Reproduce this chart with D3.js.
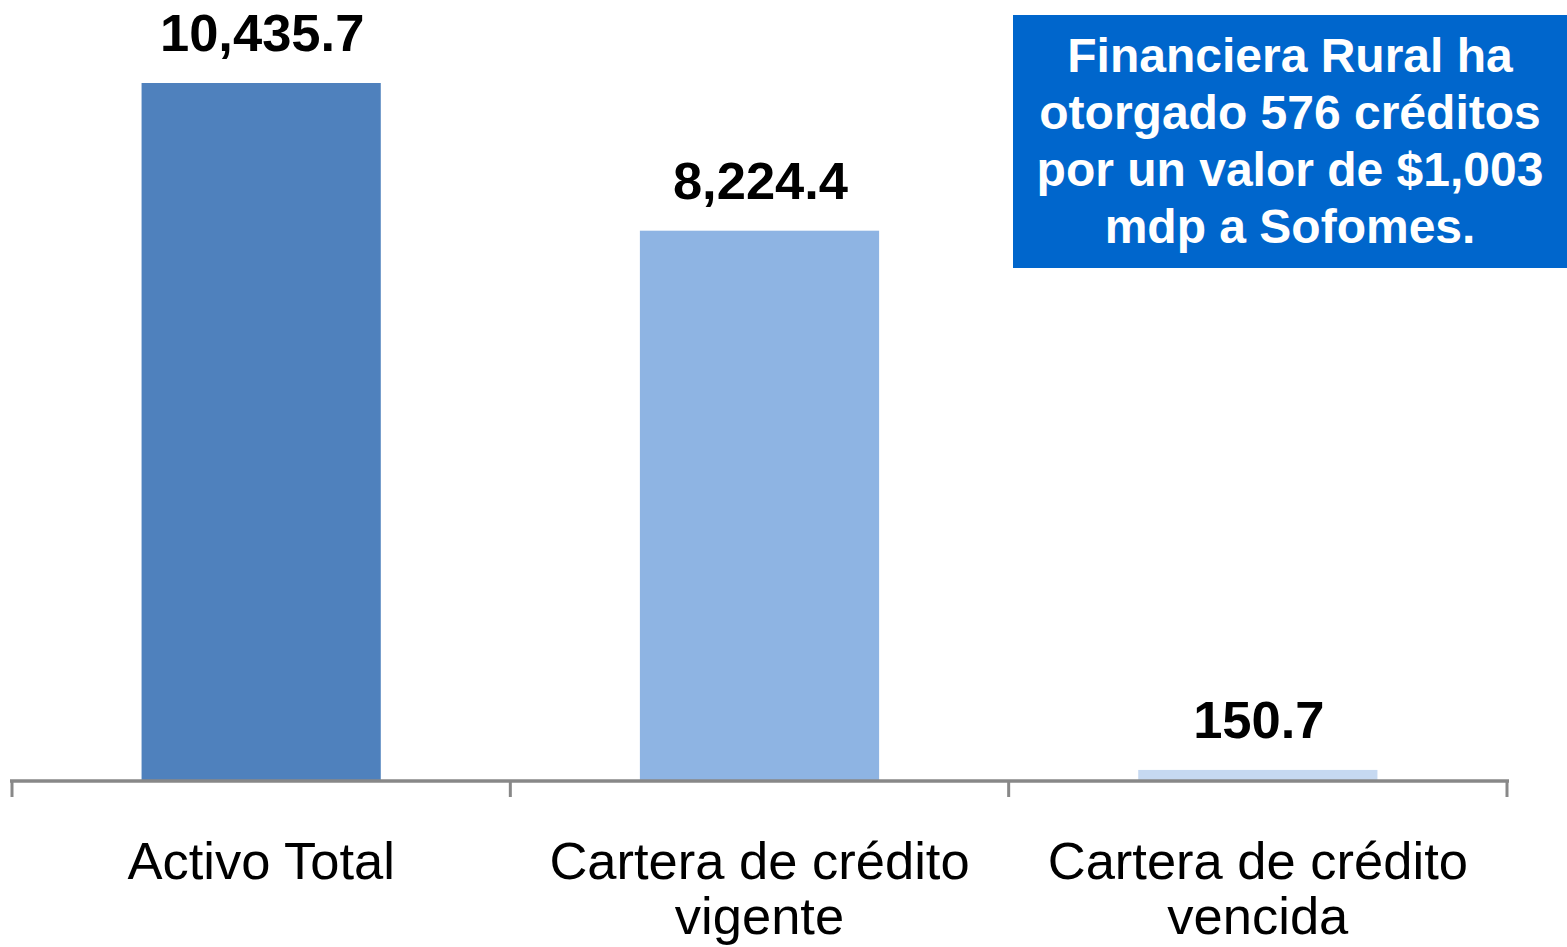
<!DOCTYPE html>
<html>
<head>
<meta charset="utf-8">
<script src="https://cdn.jsdelivr.net/npm/d3@7"></script>
<style>
  html, body { margin: 0; padding: 0; background: #ffffff; }
  svg { display: block; font-family: "Liberation Sans", Arial, sans-serif; }
</style>
</head>
<body>
<svg id="chart" width="1567" height="947"></svg>
<script>
const categories = ["Activo Total", "Cartera de crédito vigente", "Cartera de crédito vencida"];
const categoryLines = [["Activo Total"], ["Cartera de crédito", "vigente"], ["Cartera de crédito", "vencida"]];
const values = [10435.7, 8224.4, 150.7];
const valueLabels = ["10,435.7", "8,224.4", "150.7"];
const barColors = ["#4F81BD", "#8EB4E3", "#C6D9F1"];
const noteLines = ["Financiera Rural ha", "otorgado 576 créditos", "por un valor de $1,003", "mdp a Sofomes."];

const svg = d3.select("#chart");
const baseY = 780;

const x = d3.scaleBand().domain(categories).range([12, 1507]).padding(0);
const y = d3.scaleLinear().domain([0, d3.max(values)]).range([baseY, 83]);
const barW = x.bandwidth() * 0.48;

// bars
svg.selectAll("rect.bar").data(categories).enter().append("rect")
  .attr("class", "bar")
  .attr("x", (d) => x(d) + x.bandwidth() / 2 - barW / 2)
  .attr("width", barW)
  .attr("y", (d, i) => y(values[i]))
  .attr("height", (d, i) => baseY - y(values[i]))
  .attr("fill", (d, i) => barColors[i]);

// value labels
svg.selectAll("text.val").data(categories).enter().append("text")
  .attr("class", "val")
  .attr("x", (d) => x(d) + x.bandwidth() / 2 + 1)
  .attr("y", (d, i) => y(values[i]) - 32)
  .attr("text-anchor", "middle")
  .attr("font-size", 52.5)
  .attr("font-weight", "bold")
  .attr("fill", "#000")
  .text((d, i) => valueLabels[i]);

// x axis
const axis = d3.axisBottom(x).tickSize(0).tickFormat("");
const gAxis = svg.append("g").attr("transform", `translate(0,${baseY})`).call(axis);
gAxis.select(".domain").remove();
svg.append("line")
  .attr("x1", 10).attr("x2", 1509)
  .attr("y1", baseY + 1).attr("y2", baseY + 1)
  .attr("stroke", "#888888").attr("stroke-width", 3.5);
const tickXs = categories.map((d) => x(d)).concat([x.range()[1]]);
svg.selectAll("line.tick").data(tickXs).enter().append("line")
  .attr("class", "tick")
  .attr("x1", (d) => d).attr("x2", (d) => d)
  .attr("y1", baseY).attr("y2", baseY + 17)
  .attr("stroke", "#888888").attr("stroke-width", 3);

// category labels
categories.forEach((c, i) => {
  const t = svg.append("text")
    .attr("x", x(c) + x.bandwidth() / 2)
    .attr("y", 879)
    .attr("text-anchor", "middle")
    .attr("font-size", 52.5)
    .attr("fill", "#000");
  categoryLines[i].forEach((line, j) => {
    t.append("tspan")
      .attr("x", x(c) + x.bandwidth() / 2)
      .attr("dy", j === 0 ? 0 : 55)
      .text(line);
  });
});

// note box
svg.append("rect")
  .attr("x", 1013).attr("y", 15)
  .attr("width", 554).attr("height", 253)
  .attr("fill", "#0066CC");
svg.selectAll("text.note").data(noteLines).enter().append("text")
  .attr("class", "note")
  .attr("x", 1290)
  .attr("y", (d, i) => 72 + i * 57)
  .attr("text-anchor", "middle")
  .attr("font-size", 48)
  .attr("font-weight", "bold")
  .attr("fill", "#ffffff")
  .text((d) => d);
</script>
</body>
</html>
